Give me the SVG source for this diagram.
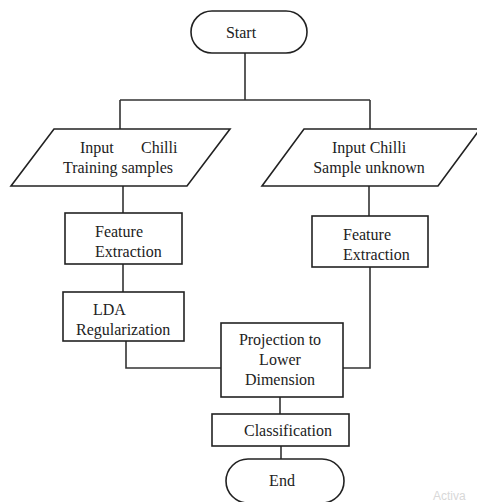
<svg xmlns="http://www.w3.org/2000/svg" width="477" height="502" viewBox="0 0 477 502">
<style>
.s{fill:#fff;stroke:#222;stroke-width:1.6}
.c{fill:none;stroke:#333;stroke-width:1.6}
.t{font-family:'Liberation Serif','DejaVu Serif','Noto Serif',serif;font-size:16px;fill:#222}
.m{text-anchor:middle}
</style>
<rect width="477" height="502" fill="#fff"/>
<g id="connectors">
<path class="c" d="M245 53V100M120 100H370M120 100V129M370 100V129"/>
<path class="c" d="M123 186V213M123 264V292"/>
<path class="c" d="M369 186V216"/>
<path class="c" d="M126 341V368H221"/>
<path class="c" d="M370 267V368H343"/>
<path class="c" d="M280 397V414"/>
<path class="c" d="M281 446V459"/>
</g>
<g class="t" font-family="Liberation Serif, DejaVu Serif, serif">
<g id="start">
<rect class="s" x="191" y="11" width="116" height="42" rx="21"/>
<text class="m" x="241" y="38">Start</text>
</g>
<g id="input-training">
<polygon class="s" points="54,129 230,129 187,186 11,186"/>
<text x="80" y="153">Input</text>
<text x="141" y="153">Chilli</text>
<text class="m" x="118" y="173">Training samples</text>
</g>
<g id="input-unknown">
<polygon class="s" points="304,129 480,129 438,186 262,186"/>
<text class="m" x="369" y="153">Input Chilli</text>
<text class="m" x="369" y="173">Sample unknown</text>
</g>
<g id="feature-left">
<rect class="s" x="65" y="213" width="117" height="51"/>
<text x="95" y="237">Feature</text>
<text x="95" y="257">Extraction</text>
</g>
<g id="feature-right">
<rect class="s" x="312" y="216" width="116" height="51"/>
<text x="343" y="240">Feature</text>
<text x="343" y="260">Extraction</text>
</g>
<g id="lda">
<rect class="s" x="63" y="292" width="121" height="49"/>
<text x="93" y="315">LDA</text>
<text x="76" y="335">Regularization</text>
</g>
<g id="projection">
<rect class="s" x="221" y="323" width="122" height="74"/>
<text class="m" x="280" y="345">Projection to</text>
<text class="m" x="280" y="365">Lower</text>
<text class="m" x="280" y="385">Dimension</text>
</g>
<g id="classification">
<rect class="s" x="212" y="414" width="137" height="32"/>
<text class="m" x="288" y="436">Classification</text>
</g>
<g id="end">
<rect class="s" x="226" y="459" width="118" height="44" rx="22"/>
<text class="m" x="282" y="486">End</text>
</g>
</g>
<text x="433" y="500" style="fill:#d8d8d8;font-family:'Liberation Sans',sans-serif;font-size:12px">Activa</text>
</svg>
